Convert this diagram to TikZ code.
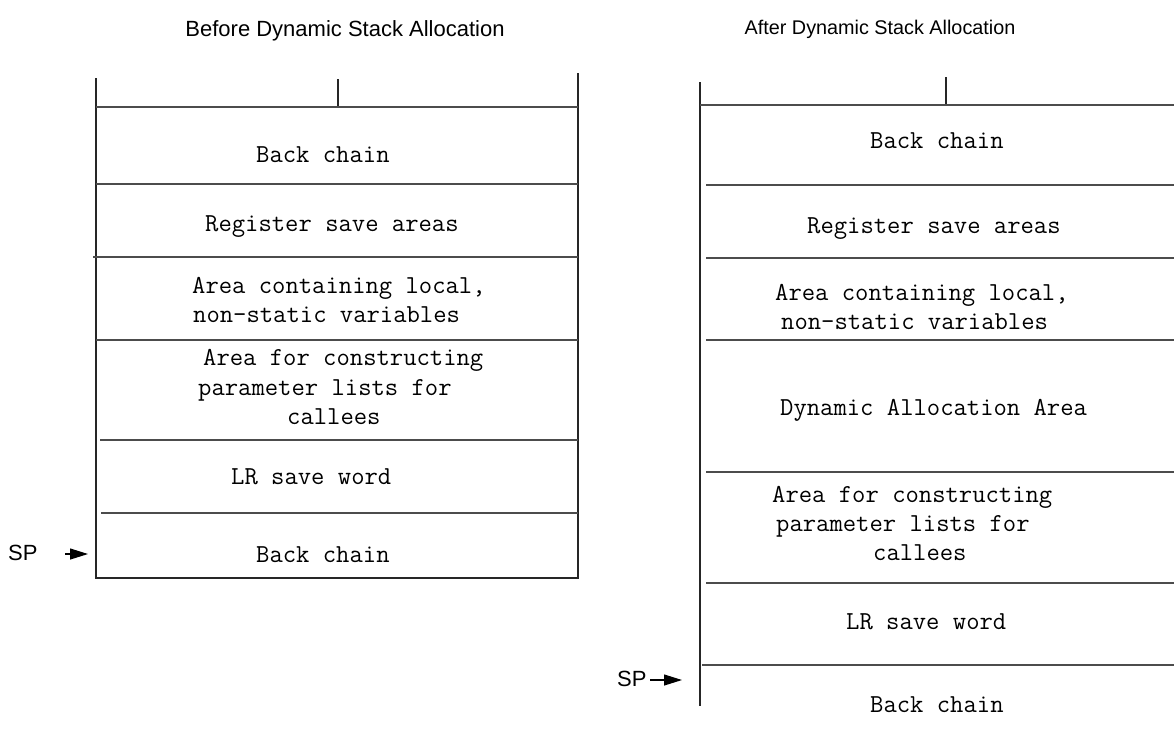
\documentclass[tikz,border=0pt]{standalone}
\usepackage{fontspec}
\setmainfont{Liberation Sans}
\usetikzlibrary{arrows.meta}
\tikzset{
  frame/.style={line width=1.2pt, draw=black!85},
  sep/.style={line width=1.2pt, draw=black!70},
  lbl/.style={anchor=base west, inner sep=0pt, font=\ttfamily\fontsize{25.9}{28}\selectfont},
  ttl/.style={anchor=base, inner sep=0pt},
  sp/.style={anchor=base west, inner sep=0pt, font=\fontsize{22}{26}\selectfont},
  sparrow/.style={line width=1.2pt, -{Triangle[length=18pt,width=11pt]}}
}
\begin{document}
\begin{tikzpicture}[x=1pt,y=-1pt]
\useasboundingbox (0,0) rectangle (1174,734);
% ---------- Left diagram ----------
\node[ttl, font=\fontsize{22}{26}\selectfont] (t1) at (345,36) {Before Dynamic Stack Allocation};
\draw[frame] (96,78) -- (96,578) -- (578,578) -- (578,73);
\draw[frame] (338,79) -- (338,108);
\draw[sep] (96,107) -- (578,107);
\draw[sep] (96,184) -- (578,184);
\draw[sep] (93,257) -- (578,257);
\draw[sep] (96,340) -- (578,340);
\draw[sep] (100,440) -- (578,440);
\draw[sep] (101,513) -- (578,513);
\node[lbl] (l1) at (256,162) {Back chain};
\node[lbl] (l2) at (205,231) {Register save areas};
\node[lbl] (l3) at (192,293) {Area containing local,};
\node[lbl] (l4) at (193,322) {non-static variables};
\node[lbl] (l5) at (203,365) {Area for constructing};
\node[lbl] (l6) at (198,395) {parameter lists for};
\node[lbl] (l7) at (287,424) {callees};
\node[lbl] (l8) at (231,484) {LR save word};
\node[lbl] (l9) at (256,562) {Back chain};
\node[sp] (sp1) at (8,560) {SP};
\coordinate (a1s) at (65,554);
\coordinate (a1e) at (88,554);
\draw[sparrow] (a1s) -- (a1e);
% ---------- Right diagram ----------
\node[ttl, font=\fontsize{19.8}{24}\selectfont] (t2) at (880,34) {After Dynamic Stack Allocation};
\draw[frame] (700,82) -- (700,706);
\draw[frame] (946,77) -- (946,105);
\draw[sep] (700,105) -- (1174,105);
\draw[sep] (706,185) -- (1174,185);
\draw[sep] (706,258) -- (1174,258);
\draw[sep] (706,340) -- (1174,340);
\draw[sep] (706,472) -- (1174,472);
\draw[sep] (706,583) -- (1174,583);
\draw[sep] (702,665) -- (1174,665);
\node[lbl] (r1) at (870,148) {Back chain};
\node[lbl] (r2) at (807,233) {Register save areas};
\node[lbl] (r3) at (775,300) {Area containing local,};
\node[lbl] (r4) at (781,329) {non-static variables};
\node[lbl] (r5) at (780,415) {Dynamic Allocation Area};
\node[lbl] (r6) at (772,502) {Area for constructing};
\node[lbl] (r7) at (776,531) {parameter lists for};
\node[lbl] (r8) at (873,560) {callees};
\node[lbl] (r9) at (846,629) {LR save word};
\node[lbl] (r10) at (870,712) {Back chain};
\node[sp] (sp2) at (617,686) {SP};
\coordinate (a2s) at (650,680);
\coordinate (a2e) at (682,680);
\draw[sparrow] (a2s) -- (a2e);
\end{tikzpicture}
\end{document}
